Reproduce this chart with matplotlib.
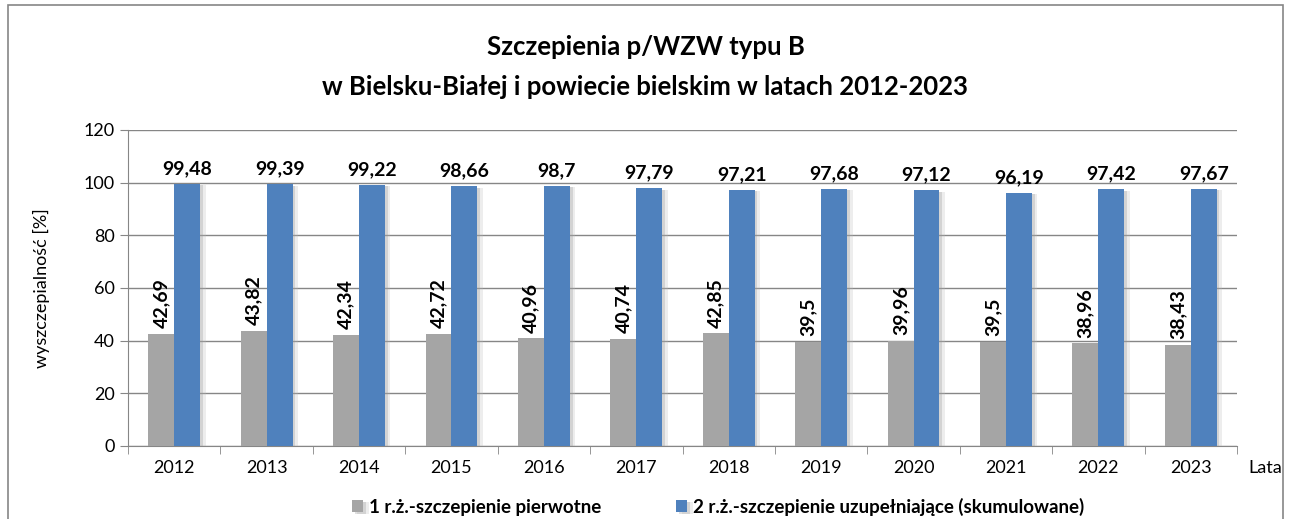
import matplotlib
matplotlib.use("Agg")
import matplotlib.pyplot as plt
import matplotlib.patheffects as pe
from matplotlib.patches import Rectangle
import numpy as np

plt.rcParams['font.family'] = ['Lato', 'DejaVu Sans']

years = ['2012', '2013', '2014', '2015', '2016', '2017', '2018', '2019', '2020', '2021', '2022', '2023']
pierwotne = [42.69, 43.82, 42.34, 42.72, 40.96, 40.74, 42.85, 39.5, 39.96, 39.5, 38.96, 38.43]
uzupelniajace = [99.48, 99.39, 99.22, 98.66, 98.7, 97.79, 97.21, 97.68, 97.12, 96.19, 97.42, 97.67]

def fmt(v):
    return ('%g' % v).replace('.', ',')

fig = plt.figure(figsize=(12.91, 5.19), dpi=100)
ax = fig.add_axes([128 / 1291, 1 - 446 / 519, (1237 - 128) / 1291, (446 - 130) / 519])

x = np.arange(len(years))
w = 0.28
# soft drop shadow like the office chart
shadow = [pe.SimplePatchShadow(offset=(4, -1), shadow_rgbFace='#bbbbbb', alpha=0.25),
          pe.SimplePatchShadow(offset=(2, -1), shadow_rgbFace='#999999', alpha=0.3),
          pe.Normal()]
b1 = ax.bar(x - w / 2, pierwotne, w, color='#a5a5a5', label='1 r.ż.-szczepienie pierwotne',
            path_effects=shadow, zorder=3)
b2 = ax.bar(x + w / 2, uzupelniajace, w, color='#4f81bd', label='2 r.ż.-szczepienie uzupełniające (skumulowane)',
            path_effects=shadow, zorder=3)

for xi, v in zip(x, pierwotne):
    ax.annotate(fmt(v), (xi - w / 2, v), xytext=(0, 4), textcoords='offset points', rotation=90,
                ha='center', va='bottom', fontsize=14, fontweight='bold', zorder=4)
for xi, v in zip(x, uzupelniajace):
    ax.annotate(fmt(v), (xi + w / 2, v), xytext=(0, 5), textcoords='offset points',
                ha='center', va='bottom', fontsize=14, fontweight='bold', zorder=4)

ax.set_xlim(-0.5, len(years) - 0.5)
ax.set_ylim(0, 120)
ax.set_yticks(range(0, 121, 20))
ax.set_xticks(x)
ax.set_xticklabels(years, fontsize=13)
ax.set_xticks(np.arange(-0.5, len(years), 1), minor=True)
ax.tick_params(axis='x', which='major', length=0, pad=10)
ax.tick_params(axis='x', which='minor', length=6, color='#868686', direction='out')
ax.tick_params(axis='y', length=6, color='#868686', labelsize=13, direction='out')
ax.grid(axis='y', color='#868686', linewidth=1, zorder=0)
for s in ['top', 'right']:
    ax.spines[s].set_visible(False)
ax.spines['left'].set_color('#868686')
ax.spines['bottom'].set_color('#868686')
ax.set_ylabel('wyszczepialność [%]', fontsize=13, labelpad=24)

fig.text(1265 / 1291, 1 - 468 / 519, 'Lata', fontsize=13, ha='center', va='center')
fig.text(0.5, 1 - 47 / 519, 'Szczepienia p/WZW typu B', fontsize=18.5, fontweight='bold',
         ha='center', va='center')
fig.text(0.5, 1 - 87 / 519, 'w Bielsku-Białej i powiecie bielskim w latach 2012-2023',
         fontsize=18.5, fontweight='bold', ha='center', va='center')

fig.legend(handles=[b1, b2], loc='center', bbox_to_anchor=(718 / 1291, 1 - 507 / 519), ncol=2,
           frameon=False, prop={'size': 13.5, 'weight': 'bold'}, handlelength=0.6,
           handleheight=0.6, handletextpad=0.3, columnspacing=4)

fig.patches.append(Rectangle((8 / 1291, -0.01), (1283 - 8) / 1291, 1.0, transform=fig.transFigure,
                             fill=False, edgecolor='#868686', linewidth=1.2))

fig.savefig('out.png', dpi=100)
